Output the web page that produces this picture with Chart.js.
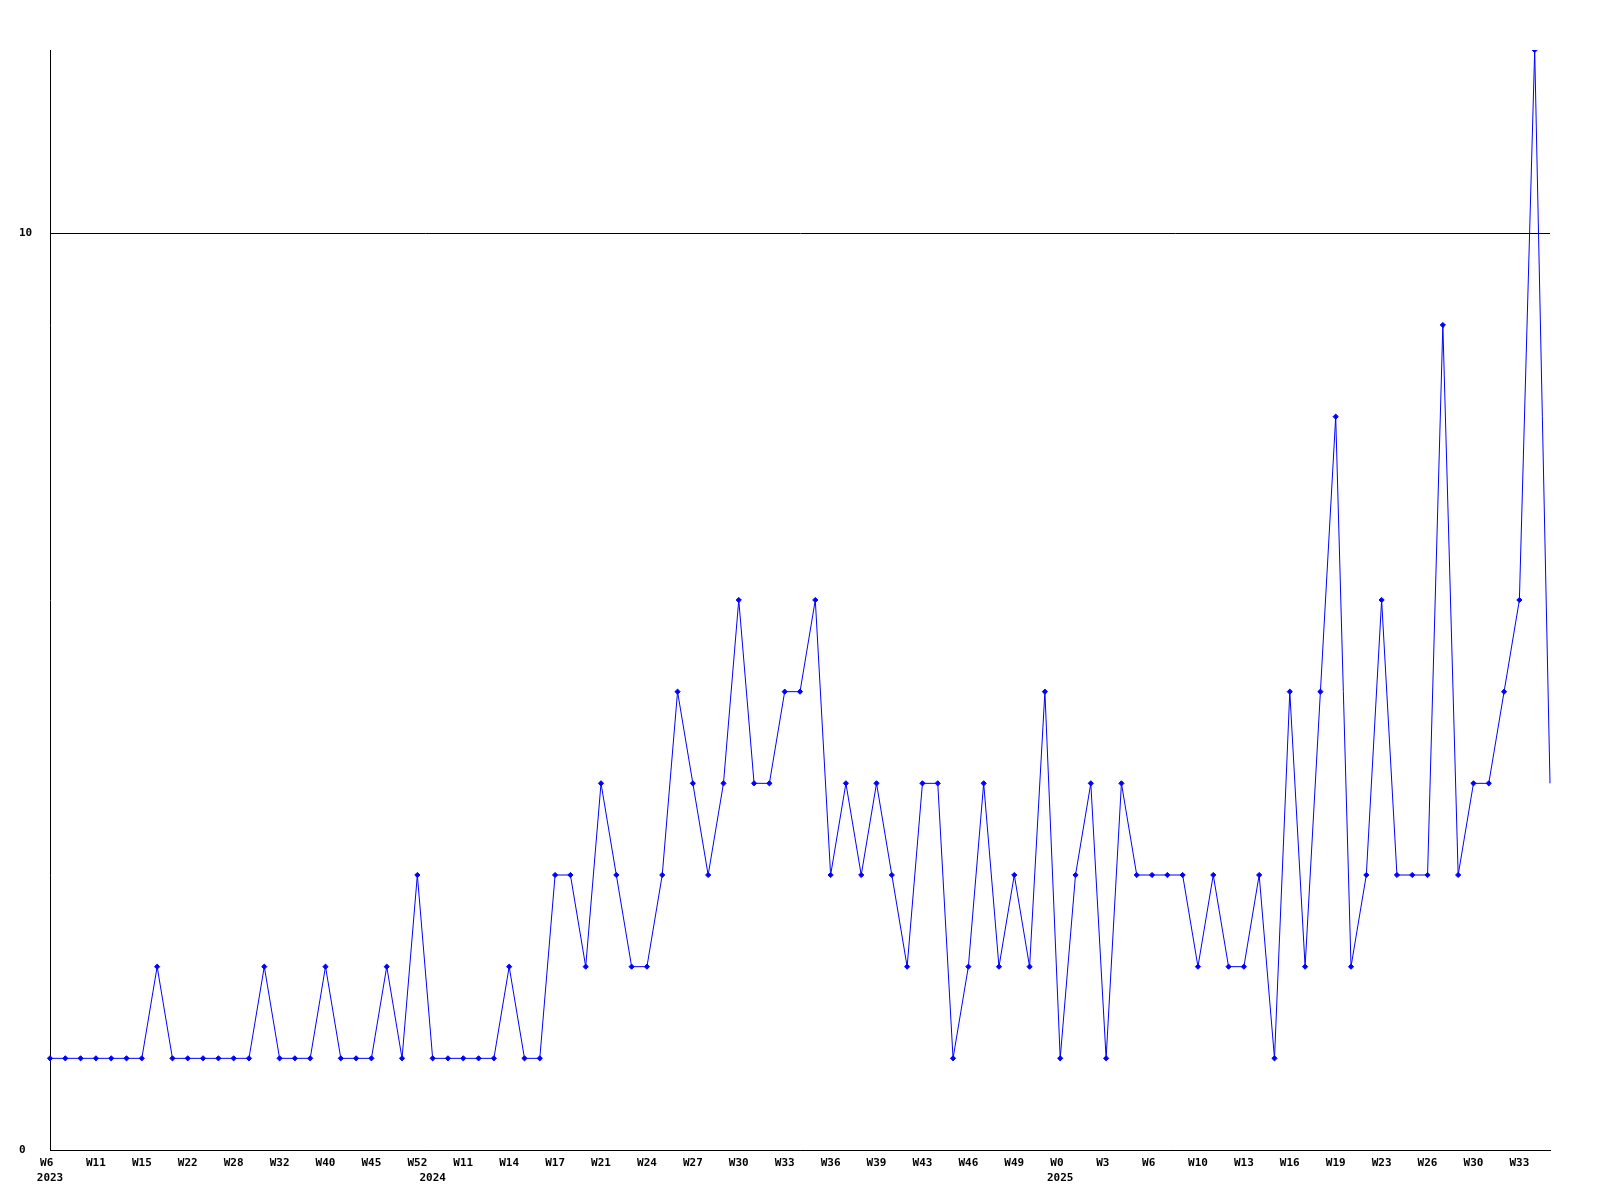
<!DOCTYPE html>
<html>
<head>
<meta charset="utf-8">
<script src="https://cdn.jsdelivr.net/npm/chart.js@4/dist/chart.umd.min.js"></script>
<style>
  html, body { margin: 0; padding: 0; background: #fff; }
  #chart { display: block; }
</style>
</head>
<body>
<canvas id="chart" width="1600" height="1200"></canvas>
<script>
// ---- Data ----
// weekly counts, one per point
const counts = [
  1, 1, 1, 1, 1, 1, 1, 2, 1, 1,
  1, 1, 1, 1, 2, 1, 1, 1, 2, 1,
  1, 1, 2, 1, 3, 1, 1, 1, 1, 1,
  2, 1, 1, 3, 3, 2, 4, 3, 2, 2,
  3, 5, 4, 3, 4, 6, 4, 4, 5, 5,
  6, 3, 4, 3, 4, 3, 2, 4, 4, 1,
  2, 4, 2, 3, 2, 5, 1, 3, 4, 1,
  4, 3, 3, 3, 3, 2, 3, 2, 2, 3,
  1, 5, 2, 5, 8, 2, 3, 6, 3, 3,
  3, 9, 3, 4, 4, 5, 6, 12, 4
];

// labels shown on every 3rd point
const weekTicks = [
  'W6', 'W11', 'W15', 'W22', 'W28', 'W32', 'W40', 'W45', 'W52', 'W11', 'W14',
  'W17', 'W21', 'W24', 'W27', 'W30', 'W33', 'W36', 'W39', 'W43', 'W46', 'W49',
  'W0', 'W3', 'W6', 'W10', 'W13', 'W16', 'W19', 'W23', 'W26', 'W30', 'W33'
];
const tickStep = 3;

// year marks: first point of each year -> year
const yearIdx   = [0, 25, 66];
const yearNames = ['2023', '2024', '2025'];

const yTicks = [0, 10];
const yMax = 12;

// ---- Chart ----
const labels = counts.map((_, i) => i);
const font = { family: "'DejaVu Sans Mono', monospace", size: 11, weight: 'bold', lineHeight: 1.42 };

new Chart(document.getElementById('chart').getContext('2d'), {
  type: 'line',
  data: {
    labels,
    datasets: [{
      data: counts,
      borderColor: '#0000ff',
      backgroundColor: '#0000ff',
      borderWidth: 1,
      tension: 0,
      fill: false,
      pointStyle: 'rectRot',
      // last point runs off the right edge, no marker there
      pointRadius: counts.map((_, i) => i === counts.length - 1 ? 0 : 2.6),
      pointBorderWidth: 1,
      pointBorderColor: '#0000ff',
      pointBackgroundColor: '#0000ff'
    }]
  },
  options: {
    responsive: false,
    animation: false,
    devicePixelRatio: 1,
    layout: { padding: { top: 50, right: 50, left: 19, bottom: 0 } },
    plugins: { legend: { display: false }, tooltip: { enabled: false } },
    scales: {
      x: {
        type: 'category',
        grid: { display: false, drawTicks: false },
        border: { display: true, color: '#000', width: 1 },
        afterFit: s => { s.height = 50; },
        ticks: {
          autoSkip: false,
          maxRotation: 0,
          minRotation: 0,
          padding: 5,
          color: '#000',
          font,
          callback: (v, i) => {
            const y = yearIdx.indexOf(i);
            // week labels sit in a 3-char cell, like the original
            const w = i % tickStep === 0 ? weekTicks[i / tickStep].padEnd(3) : '';
            if (y >= 0) return [w, yearNames[y]];
            return w === '' ? null : w;
          }
        }
      },
      y: {
        min: 0,
        max: yMax,
        grid: { color: '#000', lineWidth: 1, drawTicks: false },
        border: { display: true, color: '#000', width: 1 },
        afterFit: s => { s.width = 31; },
        afterBuildTicks: s => { s.ticks = yTicks.map(v => ({ value: v })); },
        ticks: {
          crossAlign: 'far',
          padding: 0,
          color: '#000',
          font
        }
      }
    }
  }
});
</script>
</body>
</html>
